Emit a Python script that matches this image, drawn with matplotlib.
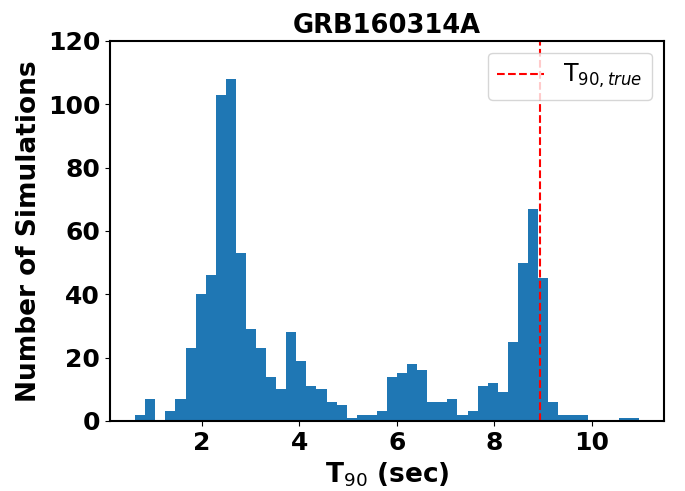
import numpy as np
import matplotlib
matplotlib.use("Agg")
import matplotlib.pyplot as plt

# histogram of simulated T90 values (counts)
bin_lo, bin_hi, n_bins = 0.63, 10.97, 50
counts = [2, 7, 0, 3, 7, 23, 40, 46, 103, 108,
          53, 29, 23, 14, 10, 28, 19, 11, 10, 6,
          5, 1, 2, 2, 3, 14, 15, 18, 16, 6,
          6, 7, 2, 3, 11, 12, 9, 25, 50, 67,
          45, 6, 2, 2, 2, 0, 0, 0, 1, 1]
t90_true = 8.94
title = "GRB160314A"

edges = np.linspace(bin_lo, bin_hi, n_bins + 1)
centers = 0.5 * (edges[:-1] + edges[1:])

fig = plt.figure(figsize=(6.85, 4.91), dpi=100)
ax = fig.add_axes([0.1606, 0.1426, 0.8087, 0.774])

ax.hist(centers, bins=edges, weights=counts, color='#1f77b4')
ax.axvline(t90_true, color='red', linestyle='--', linewidth=1.5, label=r'T$_{90, true}$')

ax.set_ylim(0, 120)
ax.set_xticks([2, 4, 6, 8, 10])
ax.set_yticks([0, 20, 40, 60, 80, 100, 120])

ax.set_title(title, fontsize=18.5, fontweight='bold')
ax.set_xlabel(r'T$_{90}$ (sec)', fontsize=19, fontweight='bold')
ax.set_ylabel('Number of Simulations', fontsize=19, fontweight='bold')
for lab in ax.get_xticklabels() + ax.get_yticklabels():
    lab.set_fontsize(18)
    lab.set_fontweight('bold')

for sp in ax.spines.values():
    sp.set_linewidth(1.5)

ax.legend(loc='upper right', fontsize=17)

fig.savefig('out.png', dpi=100)
